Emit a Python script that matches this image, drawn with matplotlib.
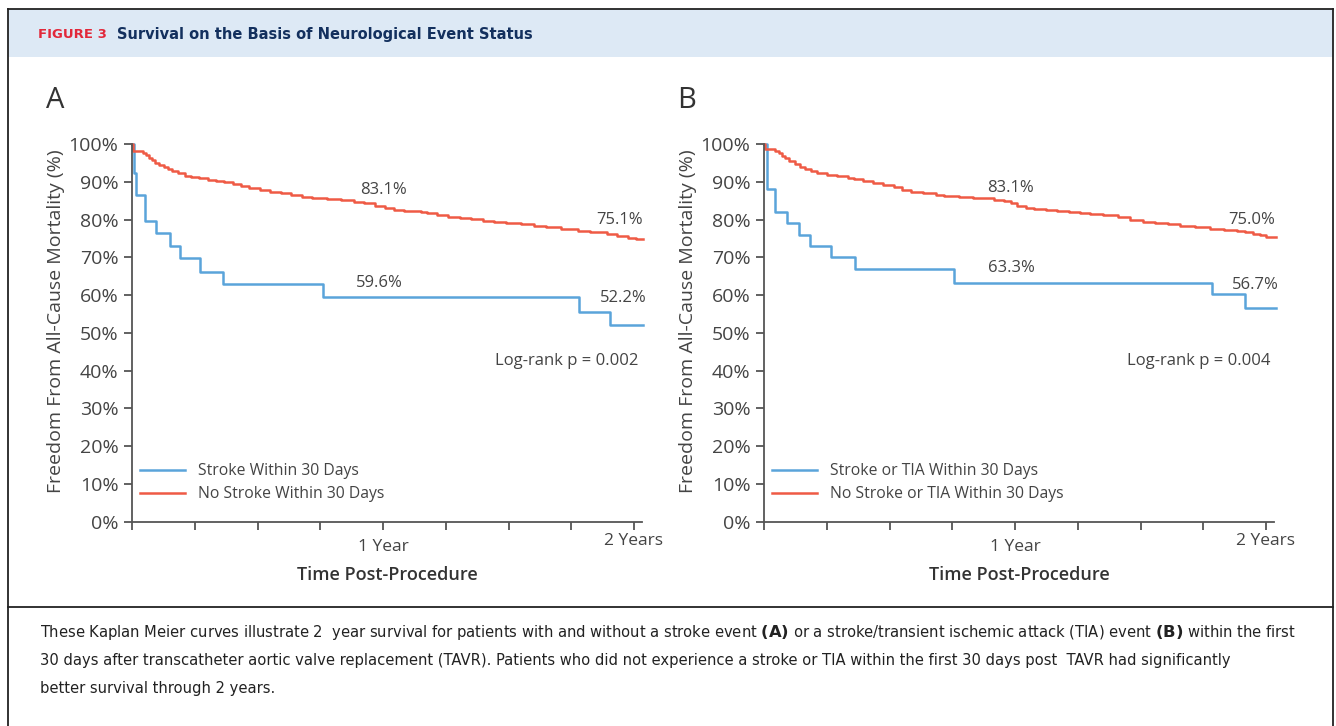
import matplotlib
matplotlib.use("Agg")
import matplotlib.pyplot as plt
from matplotlib.patches import Rectangle
from matplotlib.lines import Line2D
import matplotlib.transforms as mtransforms

# ---- data (months post-procedure, % freedom from all-cause mortality) ----
a_stroke_t = [0, 0.06, 0.19, 0.59, 1.13, 1.78, 2.26, 3.23, 4.33, 9.10, 21.37, 22.85, 24.45]
a_stroke_s = [100, 92.4, 86.5, 79.6, 76.5, 73.0, 69.7, 66.1, 63.0, 59.6, 55.6, 52.2, 52.2]

a_nostroke_t = [0, 0.05, 0.5, 0.65, 0.8, 0.95, 1.1, 1.3, 1.5, 1.7, 1.9, 2.2, 2.5, 2.8,
                3.2, 3.6, 4.0, 4.4, 4.8, 5.2, 5.6, 6.1, 6.6, 7.1, 7.6, 8.1, 8.6, 9.3,
                10.0, 10.6, 11.1, 11.6, 12.1, 12.5, 13.0, 13.8, 14.1, 14.6, 15.1, 15.7,
                16.2, 16.8, 17.3, 17.9, 18.6, 19.2, 19.8, 20.5, 21.3, 21.9, 22.7, 23.2,
                23.7, 24.1, 24.45]
a_nostroke_s = [100, 98.2, 97.6, 97.0, 96.4, 95.7, 95.1, 94.5, 93.9, 93.3, 92.8, 92.2, 91.6, 91.2,
                90.9, 90.6, 90.3, 89.9, 89.4, 88.9, 88.4, 87.9, 87.3, 86.9, 86.4, 85.9, 85.7, 85.4,
                85.1, 84.7, 84.3, 83.7, 83.1, 82.6, 82.3, 82.1, 81.6, 81.2, 80.8, 80.4,
                80.1, 79.7, 79.4, 79.1, 78.8, 78.3, 77.9, 77.5, 77.0, 76.6, 76.1, 75.6,
                75.1, 74.8, 74.8]

b_stroke_t = [0, 0.14, 0.53, 1.07, 1.67, 2.20, 3.19, 4.34, 9.09, 21.4, 23.0, 24.5]
b_stroke_s = [100, 88.1, 82.1, 79.0, 75.9, 72.9, 70.0, 66.9, 63.3, 60.2, 56.7, 56.7]

b_nostroke_t = [0, 0.03, 0.5, 0.7, 0.85, 1.0, 1.2, 1.45, 1.7, 1.95, 2.25, 2.5, 3.0, 3.5,
                4.0, 4.3, 4.7, 5.2, 5.7, 6.2, 6.6, 7.0, 7.6, 8.2, 8.6, 9.3, 10.0, 10.5,
                11.0, 11.45, 11.8, 12.1, 12.5, 12.9, 13.5, 14.0, 14.6, 15.1, 15.6, 16.2,
                16.9, 17.5, 18.1, 18.7, 19.3, 19.9, 20.6, 21.3, 22.0, 22.6, 23.0, 23.4,
                23.7, 24.0, 24.2, 24.5]
b_nostroke_s = [100, 98.6, 98.2, 97.5, 96.8, 96.2, 95.4, 94.7, 94.0, 93.3, 92.8, 92.4, 91.9, 91.5,
                91.1, 90.8, 90.3, 89.7, 89.1, 88.5, 87.9, 87.4, 87.0, 86.6, 86.3, 86.0, 85.8, 85.6,
                85.2, 84.9, 84.4, 83.7, 83.1, 82.7, 82.5, 82.3, 82.0, 81.8, 81.5, 81.1,
                80.6, 80.0, 79.4, 79.0, 78.7, 78.3, 78.0, 77.6, 77.3, 77.0, 76.6, 76.2,
                75.8, 75.5, 75.3, 75.3]

a_labels = ["Stroke Within 30 Days", "No Stroke Within 30 Days"]
b_labels = ["Stroke or TIA Within 30 Days", "No Stroke or TIA Within 30 Days"]
a_notes = [(12, 87.8, "83.1%"), (11.8, 63.2, "59.6%"), (23.3, 79.9, "75.1%"), (23.5, 59.3, "52.2%")]
b_notes = [(11.8, 88.3, "83.1%"), (11.8, 67.1, "63.3%"), (23.3, 80.0, "75.0%"), (23.5, 62.8, "56.7%")]
a_p = "Log-rank p = 0.002"
b_p = "Log-rank p = 0.004"

BLUE = "#5aa4da"
RED = "#ef5a45"
GREY = "#444444"
W, H = 1336, 726
NARROW = dict(family=['DejaVu Sans'], fontstretch="condensed")

plt.rcParams['font.family'] = ['Open Sans', 'DejaVu Sans']

fig = plt.figure(figsize=(W / 100, H / 100), dpi=100)


def fx(x):
    return x / W


def fy(y):
    return 1 - y / H


# frame, header band, caption separator
fig.add_artist(Rectangle((fx(8), fy(57)), fx(1325), 48 / H, transform=fig.transFigure,
                         facecolor="#dde9f5", edgecolor="none"))
for xs, ys in [([8, 8], [9, 726]), ([1333, 1333], [9, 726]), ([8, 1333], [9, 9]),
               ([8, 1333], [607, 607])]:
    fig.add_artist(Line2D([fx(v) for v in xs], [fy(v) for v in ys], transform=fig.transFigure,
                          color="#222222", lw=1.3))

fig.text(fx(38), fy(34), "FIGURE 3", color="#e2283a", fontsize=9.5, fontweight="heavy",
         family=['DejaVu Sans'], va="center")
fig.text(fx(117), fy(34), "Survival on the Basis of Neurological Event Status", color="#13305e",
         fontsize=11.7, fontweight="bold", va="center", **NARROW)

caption = ["These Kaplan Meier curves illustrate 2  year survival for patients with and without a stroke event $\\bf{(A)}$ or a stroke/transient ischemic attack (TIA) event $\\bf{(B)}$ within the first",
           "30 days after transcatheter aortic valve replacement (TAVR). Patients who did not experience a stroke or TIA within the first 30 days post  TAVR had significantly",
           "better survival through 2 years."]
for i, line in enumerate(caption):
    fig.text(fx(40), fy(632 + 28.5 * i), line, fontsize=11.75, color="#222222",
             va="center", **NARROW)


def panel(left, letter, letter_x, t1, s1, t2, s2, labels, notes, ptext):
    ax = fig.add_axes([fx(left), fy(521.7), fx(510), 377.7 / H])
    ax.step(t1, s1, where="post", color=BLUE, lw=1.8, label=labels[0], clip_on=False)
    ax.step(t2, s2, where="post", color=RED, lw=1.8, label=labels[1], clip_on=False)
    ax.set_xlim(0, 24.4)
    ax.set_ylim(0, 100)
    ax.set_yticks(range(0, 101, 10))
    ax.set_yticklabels([f"{v}%" for v in range(0, 101, 10)], fontsize=14, color=GREY)
    ax.set_xticks([3 * i for i in range(9)])
    ax.set_xticklabels([])
    for s in ["top", "right"]:
        ax.spines[s].set_visible(False)
    for s in ["left", "bottom"]:
        ax.spines[s].set_color("#555555")
        ax.spines[s].set_linewidth(1.3)
    ax.tick_params(colors="#555555", width=1.3, length=6, pad=4)
    ax.tick_params(axis="y", labelcolor=GREY)
    ax.set_ylabel("Freedom From All-Cause Mortality (%)", fontsize=14, color=GREY)
    ax.yaxis.set_label_coords(-0.131, 0.531)
    ax.set_xlabel("Time Post-Procedure", fontsize=13, color="#333333", labelpad=22,
                  fontweight="semibold")
    trans = mtransforms.blended_transform_factory(ax.transData, fig.transFigure)
    ax.text(12, fy(547), "1 Year", transform=trans, ha="center", va="center",
            fontsize=12.5, color=GREY)
    ax.text(24, fy(541), "2 Years", transform=trans, ha="center", va="center",
            fontsize=12.5, color=GREY)
    for x, y, txt in notes:
        ax.text(x, y, txt, ha="center", va="center", fontsize=12, color=GREY)
    ax.text(20.8, 42.5, ptext, ha="center", va="center", fontsize=12, color=GREY)
    ax.legend(loc="upper left", bbox_to_anchor=(0.015, 0.155), frameon=False, fontsize=11.3,
              handlelength=2.9, handletextpad=0.8, labelspacing=0.45, borderpad=0,
              borderaxespad=0, labelcolor=GREY)
    fig.text(fx(letter_x), fy(100), letter, fontsize=21, color="#333333", va="center")
    return ax


panel(132.3, "A", 46, a_stroke_t, a_stroke_s, a_nostroke_t, a_nostroke_s, a_labels, a_notes, a_p)
panel(764.3, "B", 677, b_stroke_t, b_stroke_s, b_nostroke_t, b_nostroke_s, b_labels, b_notes, b_p)

fig.savefig("out.png", dpi=100)
